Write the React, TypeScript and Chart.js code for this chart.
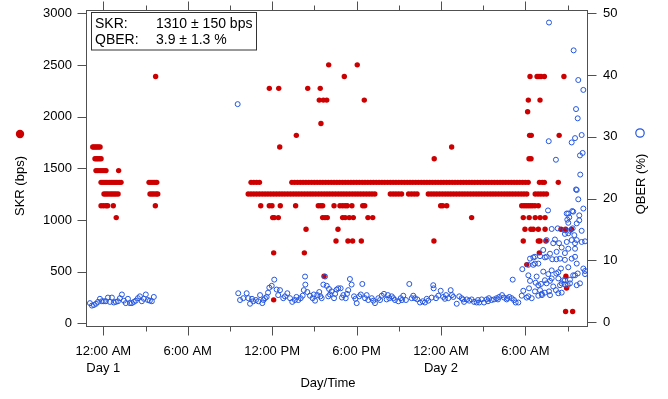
import React, { useEffect, useRef } from 'react';
import { Chart, registerables } from 'chart.js';
Chart.register(...registerables);

// ---------- axes ----------
const xMinHour = -1.23;
const xMaxHour = 34.38;
const xMajorTickHours = [0, 6, 12, 18, 24, 30];
const xMinorTickHours = [3, 9, 15, 21, 27, 33];
const xTickTimeLabels = ['12:00 AM', '6:00 AM', '12:00 PM', '6:00 PM', '12:00 AM', '6:00 AM'];
const xTickDayLabels = ['Day 1', '', '', '', 'Day 2', ''];
const skrTicks = [0, 500, 1000, 1500, 2000, 2500, 3000];
const qberTicks = [0, 10, 20, 30, 40, 50];
const skrMin = -26;
const skrMax = 3032;
const qberMin = -0.6;
const qberMax = 50.53;

// ---------- summary box ----------
const summaryNames = ['SKR:', 'QBER:'];
const summaryValues = ['1310 \u00b1 150 bps', '3.9 \u00b1 1.3 %'];

// ---------- SKR (bps): hours (from Day 1, 12:00 AM) at which each level was measured ----------
const skrAt114 = [32.86, 33.36];
const skrAt227 = [12.11];
const skrAt341 = [32.93];
const skrAt455 = [15.69, 32.88];
const skrAt568 = [30.1];
const skrAt682 = [12.11, 14.29, 30.99];
const skrAt796 = [16.54, 17.39, 17.72, 18.34, 23.5, 29.85, 30.92, 31.04, 31.46];
const skrAt910 = [14.41, 16.68, 29.97, 30.39, 30.56, 30.92, 31.4, 32.53, 32.86, 33.28];
const skrAt1023 = [0.92, 12.04, 12.15, 12.44, 15.59, 15.76, 15.92, 17.01, 17.19, 17.48, 17.77, 18.81, 19.15, 26.18, 29.85, 30.27, 30.7, 31.05, 31.4];
const skrAt1137 = [-0.16, 0.01, 0.19, 0.31, 0.71, 3.7, 11.19, 11.8, 11.99, 12.58, 13.67, 15.28, 15.45, 15.59, 16.4, 16.82, 17.01, 17.19, 17.34, 17.67, 18.44, 18.58, 23.98, 24.12, 24.41, 29.74, 29.9, 30.05, 30.2, 30.35, 30.5, 30.68, 30.92];
const skrAt1251 = [0.05, 0.19, 0.33, 0.48, 0.62, 0.76, 0.9, 1.05, 3.32, 3.46, 3.6, 3.75, 3.87,
  10.3, 10.5, 10.7, 10.9, 11.1, 11.3, 11.5, 11.7, 11.9, 12.1, 12.3, 12.5, 12.7, 12.9, 13.1, 13.3, 13.5, 13.7, 13.9, 14.1, 14.3, 14.5, 14.7, 14.9,
  15.1, 15.3, 15.5, 15.7, 15.9, 16.1, 16.3, 16.5, 16.7, 16.9, 17.1, 17.3, 17.5, 17.7, 17.9, 18.1, 18.3, 18.5, 18.7, 18.9, 19.1, 19.3,
  20.4, 20.6, 20.8, 21.0, 21.2, 21.7, 21.9, 22.1, 22.3,
  23.1, 23.3, 23.5, 23.7, 23.9, 24.1, 24.3, 24.5, 24.7, 24.9, 25.1, 25.3, 25.5, 25.7, 25.9, 26.1, 26.3, 26.5, 26.7, 26.9,
  27.1, 27.3, 27.5, 27.7, 27.9, 28.1, 28.3, 28.5, 28.7, 28.9, 29.1, 29.3, 29.5, 29.7, 29.9, 30.1,
  30.7, 30.9, 31.1, 31.3, 31.5];
const skrAt1364 = [-0.16, -0.02, 0.12, 0.26, 0.41, 0.55, 0.69, 0.83, 0.97, 1.12, 1.26, 3.25, 3.39, 3.53, 3.67, 3.8,
  10.5, 10.7, 10.9, 11.1,
  13.4, 13.6, 13.8, 14.0, 14.2, 14.4, 14.6, 14.8, 15.0, 15.2, 15.4, 15.6, 15.8, 16.0, 16.2, 16.4, 16.6, 16.8, 17.0, 17.2, 17.4, 17.6, 17.8,
  18.0, 18.2, 18.4, 18.6, 18.8, 19.0, 19.2, 19.4, 19.6, 19.8, 20.0, 20.2, 20.4, 20.6, 20.8, 21.0, 21.2, 21.4, 21.6, 21.8, 22.0, 22.2, 22.4,
  22.6, 22.8, 23.0, 23.2, 23.4, 23.6, 23.8, 24.0, 24.2, 24.4, 24.6, 24.8, 25.0, 25.2, 25.4, 25.6, 25.8, 26.0, 26.2, 26.4, 26.6, 26.8, 27.0,
  27.2, 27.4, 27.6, 27.8, 28.0, 28.2, 28.4, 28.6, 28.8, 29.0, 29.2, 29.4, 29.6, 29.8, 30.0, 30.2,
  31.0, 31.2, 31.35, 32.34];
const skrAt1478 = [-0.52, -0.38, -0.23, -0.09, 0.05, 0.19, 1.09];
const skrAt1592 = [-0.59, -0.48, -0.38, -0.27, -0.16, 23.52, 30.26, 30.4];
const skrAt1706 = [-0.75, -0.66, -0.55, -0.45, -0.34, -0.23, 12.54, 24.76];
const skrAt1819 = [13.72, 30.3, 30.42, 32.4];
const skrAt1933 = [15.47];
const skrAt2047 = [30.16];
const skrAt2160 = [15.35, 15.64, 15.88, 18.55, 30.21, 31.04];
const skrAt2274 = [11.8, 12.47, 14.53, 15.42];
const skrAt2388 = [3.72, 17.13, 30.33, 30.83, 30.97, 31.11, 31.35, 32.74];
const skrAt2501 = [16.02, 18.05];

const skrSeries: [number, number[]][] = [
  [114, skrAt114], [227, skrAt227], [341, skrAt341], [455, skrAt455], [568, skrAt568], [682, skrAt682],
  [796, skrAt796], [910, skrAt910], [1023, skrAt1023], [1137, skrAt1137], [1251, skrAt1251], [1364, skrAt1364],
  [1478, skrAt1478], [1592, skrAt1592], [1706, skrAt1706], [1819, skrAt1819], [1933, skrAt1933], [2047, skrAt2047],
  [2160, skrAt2160], [2274, skrAt2274], [2388, skrAt2388], [2501, skrAt2501],
];

// ---------- QBER (%) ----------
// night of Day 1
const qberHoursA = [-0.95, -0.81, -0.67, -0.52, -0.38, -0.24, -0.1, 0.04, 0.18, 0.33, 0.47, 0.61, 0.75, 0.89, 1.04, 1.18, 1.32, 1.46, 1.6, 1.75, 1.89, 2.03, 2.17, 2.31, 2.46, 2.6, 2.74, 2.88, 3.02, 3.17, 3.31, 3.45, 3.59];
const qberValuesA = [3.1, 2.7, 2.8, 3.0, 3.3, 3.8, 3.4, 3.4, 3.4, 4.0, 3.3, 4.0, 3.2, 3.3, 3.4, 3.9, 4.5, 3.5, 3.1, 3.8, 3.1, 3.1, 3.3, 3.5, 3.9, 4.2, 3.4, 3.8, 4.5, 3.6, 3.5, 3.4, 4.1];
// Day 1 morning to Day 2 early morning
const qberHoursB = [9.55, 9.59, 9.72, 9.95, 10.19, 10.31, 10.43, 10.57, 10.66, 10.85, 11.02, 11.14, 11.3, 11.39, 11.49, 11.61, 11.71, 11.8, 11.97,
  12.15, 12.32, 12.43, 12.56, 12.79, 12.91, 13.08, 13.27, 13.43, 13.62, 13.73, 13.86, 14.03, 14.17, 14.25, 14.34, 14.36, 14.5, 14.69, 14.88,
  14.96, 15.05, 15.21, 15.35, 15.43, 15.52, 15.64, 15.76, 15.88, 15.99, 16.04, 16.11, 16.23, 16.4, 16.48, 16.59, 16.7, 16.87, 16.96, 17.06,
  17.23, 17.32, 17.41, 17.53, 17.65, 17.82, 17.92, 18.01, 18.19, 18.3, 18.41, 18.6, 18.72, 18.83, 19.08, 19.19, 19.31, 19.55, 19.67, 19.79,
  19.95, 20.14, 20.23, 20.33, 20.5, 20.61, 20.73, 20.97, 21.14, 21.23, 21.32, 21.51, 21.75, 21.92, 22.03, 22.15, 22.32, 22.51, 22.7, 22.86,
  22.99, 23.1, 23.34, 23.45, 23.48, 23.65, 23.81, 23.98, 24.16, 24.28, 24.36, 24.52, 24.69, 24.78, 24.88, 25.12, 25.3, 25.47, 25.57, 25.64,
  25.83, 26.01, 26.18, 26.35, 26.54, 26.63, 26.72, 26.89, 27.06, 27.25, 27.34, 27.41, 27.6, 27.77, 27.96, 28.05, 28.14, 28.34, 28.48, 28.67,
  28.73, 28.86, 29.03, 29.1, 29.19];
const qberValuesB = [35.3, 4.7, 3.6, 3.9, 4.7, 3.9, 3.0, 3.8, 3.4, 3.6, 3.4, 4.4, 3.1, 3.6, 3.9, 4.1, 4.8, 5.6, 5.9,
  6.9, 5.3, 4.4, 5.2, 3.9, 4.2, 4.7, 3.9, 3.3, 3.6, 4.1, 3.6, 3.9, 4.3, 5.2, 7.4, 6.1, 4.9, 4.3, 3.9,
  4.5, 3.5, 4.4, 4.9, 4.2, 3.9, 6.1, 7.4, 5.9, 4.2, 5.4, 4.5, 5.0, 3.9, 4.6, 5.3, 5.5, 5.5, 4.0, 4.4,
  3.9, 4.6, 5.2, 7.0, 6.1, 4.2, 3.8, 3.1, 4.2, 4.5, 6.2, 3.9, 4.4, 3.6, 3.9, 3.5, 3.1, 3.9, 3.6, 4.3,
  4.6, 3.7, 4.4, 3.9, 4.2, 3.9, 3.6, 3.4, 3.9, 3.6, 4.3, 3.6, 6.2, 3.9, 4.3, 3.9, 3.7, 3.2, 3.4, 3.2,
  3.8, 3.5, 4.0, 6.0, 5.5, 3.9, 4.3, 5.1, 4.1, 3.8, 4.4, 3.9, 5.2, 4.4, 4.1, 3.0, 4.2, 3.9, 3.7, 3.3,
  3.7, 3.5, 3.7, 3.3, 3.2, 3.6, 3.2, 3.7, 3.2, 3.7, 3.4, 3.9, 3.6, 3.7, 3.9, 3.7, 4.1, 4.4, 4.0, 3.7,
  3.9, 4.1, 3.9, 6.9, 3.6];
// Day 2 morning
const qberHoursC = [29.31, 29.5, 29.74, 29.78, 29.85, 30.09, 30.21, 30.21, 30.21, 30.26, 30.33, 30.33, 30.45, 30.56, 30.56, 30.68, 30.68, 30.68,
  30.73, 30.8, 30.92, 30.92, 30.92, 31.04, 31.04, 31.11, 31.16, 31.18, 31.27, 31.27, 31.39, 31.39, 31.39, 31.51, 31.51, 31.51, 31.61, 31.63,
  31.66, 31.68, 31.68, 31.75, 31.75, 31.75, 31.87, 31.87, 31.87, 31.91, 31.98, 31.98, 32.1, 32.17, 32.17, 32.2, 32.2, 32.22, 32.3, 32.34,
  32.34, 32.34, 32.39, 32.46, 32.46, 32.53, 32.58, 32.58, 32.58, 32.69, 32.81, 32.81, 32.81, 32.81, 32.81, 32.81, 32.94, 32.94, 32.98, 33.01,
  33.05, 33.05, 33.05, 33.05, 33.05, 33.12, 33.17, 33.17, 33.17, 33.29, 33.29, 33.29, 33.33, 33.36, 33.4, 33.4, 33.43, 33.48, 33.53, 33.53,
  33.53, 33.53, 33.53, 33.6, 33.6, 33.65, 33.65, 33.65, 33.65, 33.65, 33.72, 33.72, 33.76, 33.76, 33.83, 33.83, 33.88, 33.88, 33.9, 34.0,
  34.0, 34.0, 34.07, 34.12, 34.12, 34.12, 34.24, 34.24, 34.24];
const qberValuesC = [3.2, 3.2, 4.3, 8.6, 5.1, 4.0, 9.3, 7.6, 4.2, 5.5, 6.7, 10.3, 3.9, 10.5, 9.3, 9.5, 5.0, 10.6,
  6.4, 7.4, 9.5, 4.3, 6.0, 10.7, 5.2, 6.2, 4.6, 4.4, 8.2, 11.7, 10.5, 4.8, 6.8, 13.3, 6.3, 10.6, 18.1, 7.8,
  29.3, 48.5, 5.0, 11.1, 6.7, 4.4, 15.1, 7.1, 8.4, 10.2, 5.8, 12.8, 13.4, 26.3, 5.2, 10.2, 7.9, 11.4, 15.2, 8.1,
  7.1, 4.7, 12.8, 6.0, 10.3, 8.7, 12.1, 4.8, 6.3, 6.8, 14.9, 14.3, 10.1, 6.8, 6.1, 11.2, 13.0, 17.6, 16.6, 6.0,
  17.6, 16.1, 11.9, 8.9, 14.4, 17.0, 14.8, 6.9, 6.3, 29.1, 10.3, 13.3, 18.0, 15.2, 17.9, 7.6, 44.0, 14.1, 29.8, 11.9,
  10.6, 7.6, 12.8, 34.5, 21.5, 13.3, 6.0, 16.0, 21.4, 9.5, 33.0, 7.9, 39.2, 19.9, 17.3, 16.5, 27.0, 6.3, 23.9, 30.3,
  14.8, 13.0, 27.4, 37.6, 18.4, 8.7, 13.1, 7.8, 8.3];

// ---------- styling ----------
const FONT = '"Liberation Sans", Arial, Helvetica, sans-serif';
const RED = '#cc0000';
const BLUE = '#2456e0';
const AXIS = '#505050';

const skrPoints = skrSeries.flatMap(([level, hours]) => hours.map((h) => ({ x: h, y: level })));
const qberPoints = [
  ...qberHoursA.map((h, i) => ({ x: h, y: qberValuesA[i] })),
  ...qberHoursB.map((h, i) => ({ x: h, y: qberValuesB[i] })),
  ...qberHoursC.map((h, i) => ({ x: h, y: qberValuesC[i] })),
];

const noPad = (s: any) => {
  s.paddingTop = 0;
  s.paddingBottom = 0;
  s.paddingLeft = 0;
  s.paddingRight = 0;
};

const decorPlugin = {
  id: 'decor',
  afterDraw(chart: any) {
    const { ctx, chartArea: a, scales } = chart;
    const xs = scales.x;
    const yl = scales.y;
    const yr = scales.y2;
    ctx.save();
    // frame
    ctx.strokeStyle = AXIS;
    ctx.lineWidth = 1;
    ctx.strokeRect(a.left + 0.5, a.top + 0.5, a.right - a.left, a.bottom - a.top);
    ctx.beginPath();
    const vtick = (h: number, len: number) => {
      const px = Math.round(xs.getPixelForValue(h)) + 0.5;
      ctx.moveTo(px, a.bottom + 0.5);
      ctx.lineTo(px, a.bottom + 0.5 + len);
      ctx.moveTo(px, a.top + 0.5);
      ctx.lineTo(px, a.top + 0.5 - len);
    };
    xMajorTickHours.forEach((h) => vtick(h, 9));
    xMinorTickHours.forEach((h) => vtick(h, 5));
    skrTicks.forEach((v) => {
      const py = Math.round(yl.getPixelForValue(v)) + 0.5;
      ctx.moveTo(a.left + 0.5, py);
      ctx.lineTo(a.left + 0.5 - 9, py);
    });
    qberTicks.forEach((v) => {
      const py = Math.round(yr.getPixelForValue(v)) + 0.5;
      ctx.moveTo(a.right + 0.5, py);
      ctx.lineTo(a.right + 0.5 + 9, py);
    });
    ctx.stroke();

    // axis titles
    ctx.fillStyle = '#000';
    ctx.font = `13px ${FONT}`;
    ctx.textAlign = 'center';
    ctx.textBaseline = 'middle';
    ctx.fillText('Day/Time', 328, 383);
    ctx.save();
    ctx.translate(20, 186);
    ctx.rotate(-Math.PI / 2);
    ctx.fillText('SKR (bps)', 0, 0);
    ctx.restore();
    ctx.save();
    ctx.translate(641, 184);
    ctx.rotate(-Math.PI / 2);
    ctx.fillText('QBER (%)', 0, 0);
    ctx.restore();
    // title markers
    ctx.fillStyle = RED;
    ctx.beginPath();
    ctx.arc(20, 134, 4.2, 0, Math.PI * 2);
    ctx.fill();
    ctx.strokeStyle = BLUE;
    ctx.lineWidth = 1.2;
    ctx.beginPath();
    ctx.arc(640, 133, 4.2, 0, Math.PI * 2);
    ctx.stroke();

    // summary box
    ctx.fillStyle = '#fff';
    ctx.fillRect(91.5, 12.5, 165, 37.5);
    ctx.strokeStyle = '#333';
    ctx.lineWidth = 1;
    ctx.strokeRect(91.5, 12.5, 165, 37.5);
    ctx.fillStyle = '#000';
    ctx.font = `14px ${FONT}`;
    ctx.textAlign = 'left';
    ctx.textBaseline = 'middle';
    summaryNames.forEach((n, i) => {
      ctx.fillText(n, 95, 24.5 + i * 16);
      ctx.fillText(summaryValues[i], 156, 24.5 + i * 16);
    });
    ctx.restore();
  },
};

export default function App() {
  const ref = useRef<HTMLCanvasElement>(null);
  useEffect(() => {
    const canvas = ref.current;
    if (!canvas) return;
    const tickFont = { family: FONT, size: 13, lineHeight: 1.28 };
    const chart = new Chart(canvas, {
      type: 'scatter',
      data: {
        datasets: [
          {
            label: 'QBER',
            data: qberPoints,
            yAxisID: 'y2',
            pointRadius: 2.5,
            pointBorderWidth: 1,
            pointBorderColor: BLUE,
            pointBackgroundColor: 'rgba(0,0,0,0)',
            borderColor: BLUE,
            backgroundColor: 'rgba(0,0,0,0)',
            showLine: false,
          },
          {
            label: 'SKR',
            data: skrPoints,
            yAxisID: 'y',
            pointRadius: 2.7,
            pointBorderWidth: 0,
            pointBackgroundColor: RED,
            backgroundColor: RED,
            borderColor: RED,
            showLine: false,
          },
        ],
      },
      options: {
        responsive: false,
        animation: false,
        devicePixelRatio: 1,
        events: [],
        layout: { padding: { top: 10, left: 0, right: 0, bottom: 0 } },
        plugins: { legend: { display: false }, tooltip: { enabled: false }, title: { display: false } },
        scales: {
          x: {
            type: 'linear',
            position: 'bottom',
            min: xMinHour,
            max: xMaxHour,
            grid: { display: false, drawTicks: false },
            border: { display: false },
            afterBuildTicks: (s: any) => {
              s.ticks = xMajorTickHours.map((v) => ({ value: v }));
            },
            afterFit: (s: any) => {
              s.height = 73;
              noPad(s);
            },
            ticks: {
              autoSkip: false,
              maxRotation: 0,
              padding: 17,
              color: '#000',
              font: tickFont,
              callback: (value: any) => {
                const i = xMajorTickHours.indexOf(Number(value));
                if (i < 0) return '';
                return xTickDayLabels[i] ? [xTickTimeLabels[i], xTickDayLabels[i]] : xTickTimeLabels[i];
              },
            },
          },
          y: {
            type: 'linear',
            position: 'left',
            min: skrMin,
            max: skrMax,
            grid: { display: false, drawTicks: false },
            border: { display: false },
            afterBuildTicks: (s: any) => {
              s.ticks = skrTicks.map((v) => ({ value: v }));
            },
            afterFit: (s: any) => {
              s.width = 86;
              noPad(s);
            },
            ticks: { autoSkip: false, padding: 14, color: '#000', font: tickFont, callback: (v: any) => String(v) },
          },
          y2: {
            type: 'linear',
            position: 'right',
            min: qberMin,
            max: qberMax,
            grid: { display: false, drawTicks: false },
            border: { display: false },
            afterBuildTicks: (s: any) => {
              s.ticks = qberTicks.map((v) => ({ value: v }));
            },
            afterFit: (s: any) => {
              s.width = 81;
              noPad(s);
            },
            ticks: { autoSkip: false, padding: 16, color: '#000', font: tickFont, callback: (v: any) => String(v) },
          },
        },
      },
      plugins: [decorPlugin],
    } as any);
    return () => chart.destroy();
  }, []);
  return (
    <div style={{ position: 'absolute', left: 0, top: 0, width: 668, height: 399, background: '#fff' }}>
      <canvas ref={ref} width={668} height={399} style={{ display: 'block', width: 668, height: 399 }} />
    </div>
  );
}
